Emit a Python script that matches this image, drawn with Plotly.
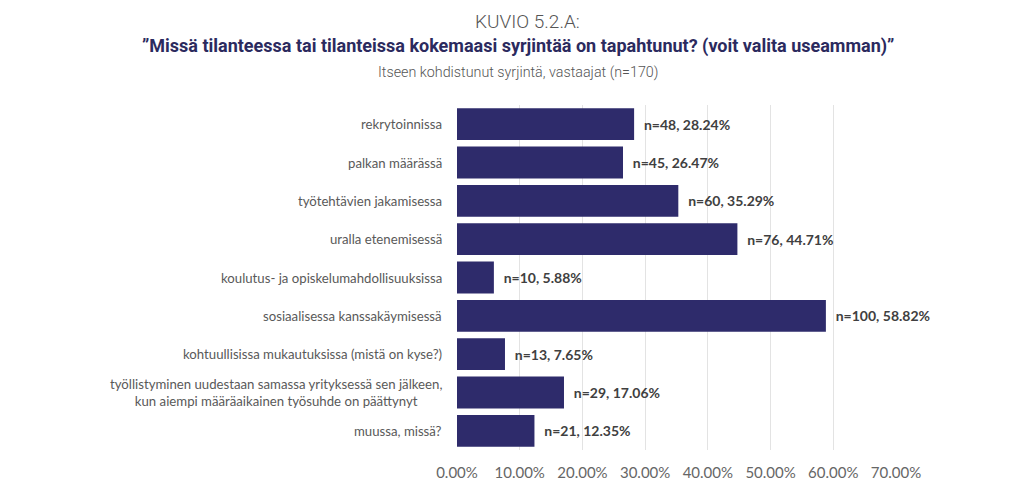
import plotly.graph_objects as go

categories = [
    "rekrytoinnissa",
    "palkan määrässä",
    "työtehtävien jakamisessa",
    "uralla etenemisessä",
    "koulutus- ja opiskelumahdollisuuksissa",
    "sosiaalisessa kanssakäymisessä",
    "kohtuullisissa mukautuksissa (mistä on kyse?)",
    "työllistyminen uudestaan samassa yrityksessä sen jälkeen,<br>kun aiempi määräaikainen työsuhde on päättynyt",
    "muussa, missä?",
]
counts = [48, 45, 60, 76, 10, 100, 13, 29, 21]
percents = [28.24, 26.47, 35.29, 44.71, 5.88, 58.82, 7.65, 17.06, 12.35]
tick_values = [0, 10, 20, 30, 40, 50, 60, 70]

labels = [f"  n={n}, {p:.2f}%" for n, p in zip(counts, percents)]

W, H = 1024, 492
OFF = 8  # page body margin
ML, MR, MT, MB = 457 - OFF, W - (896 - OFF), 105 - OFF, H - (450 - OFF)
plot_w = W - ML - MR
plot_h = H - MT - MB


def px(xs):
    return (xs - OFF - ML) / plot_w


def py(ys):
    return (H - MB - (ys - OFF)) / plot_h


fig = go.Figure()
fig.add_trace(go.Bar(
    y=categories,
    x=percents,
    orientation="h",
    marker=dict(color="#2e2b6b", line=dict(width=0)),
    text=labels,
    textposition="outside",
    cliponaxis=False,
    textfont=dict(family="Lato", size=14, color="#404040", weight="bold"),
    width=0.83,
))

fig.update_layout(
    width=W, height=H,
    margin=dict(l=ML, r=MR, t=MT, b=MB, autoexpand=False),
    paper_bgcolor="white", plot_bgcolor="white",
    showlegend=False,
    xaxis=dict(range=[0, 70], tickvals=tick_values,
               ticktext=[f"{v:.2f}%" for v in tick_values],
               showgrid=True, gridcolor="#e3e3e3", gridwidth=1,
               zeroline=False, showline=False, ticks="",
               tickfont=dict(family="Lato", size=15, color="#666666"),
               ticklabelstandoff=12),
    yaxis=dict(autorange="reversed", showticklabels=False, showgrid=False,
               zeroline=False, showline=False, ticks=""),
)

for c in categories:
    fig.add_annotation(
        x=0, xref="paper", y=c, yref="y",
        text=c, showarrow=False, xanchor="right", align="center",
        xshift=-13, font=dict(family="Lato", size=13.2, color="#595959"),
    )

fig.add_annotation(x=px(527), y=py(22), xref="paper", yref="paper", text="KUVIO 5.2.A:",
                   showarrow=False, xanchor="center", yanchor="middle",
                   font=dict(family="Roboto", size=19, color="#555555", weight=300))
fig.add_annotation(x=px(518), y=py(46), xref="paper", yref="paper",
                   text="<b>”Missä tilanteessa tai tilanteissa kokemaasi syrjintää on tapahtunut? (voit valita useamman)”</b>",
                   showarrow=False, xanchor="center", yanchor="middle",
                   font=dict(family="Roboto", size=18, color="#2b2a5e"))
fig.add_annotation(x=px(518), y=py(72), xref="paper", yref="paper",
                   text="Itseen kohdistunut syrjintä, vastaajat (n=170)",
                   showarrow=False, xanchor="center", yanchor="middle",
                   font=dict(family="Roboto", size=14.3, color="#555555", weight=300))

fig.write_html("out.html")
